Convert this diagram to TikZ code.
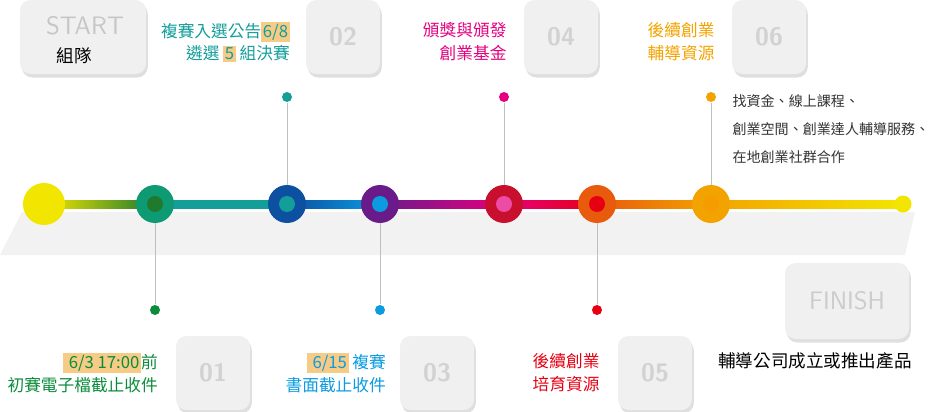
\documentclass[tikz,border=0pt]{standalone}
\usepackage{fontspec}
\setmainfont{Noto Sans CJK TC}
\usetikzlibrary{positioning,shadows,calc}
\definecolor{cYel}{HTML}{F2E600}
\definecolor{cGrn}{HTML}{0E9A72}
\definecolor{cDkG}{HTML}{1F7A2E}
\definecolor{cTeal}{HTML}{139E9A}
\definecolor{cBlu}{HTML}{0D4FA0}
\definecolor{cCyan}{HTML}{0A9BE0}
\definecolor{cPur}{HTML}{6A1B8A}
\definecolor{cMag}{HTML}{E4007F}
\definecolor{cCrim}{HTML}{C8102E}
\definecolor{cRed}{HTML}{E60012}
\definecolor{cOrg}{HTML}{E85A0C}
\definecolor{cAmb}{HTML}{F3A300}
\definecolor{cHl}{HTML}{F5CB85}
\definecolor{cText}{HTML}{0B8C3C}
\begin{document}
\begin{tikzpicture}[x=0.02cm, y=-0.02cm, thick,
  card/.style={draw=none, fill=gray!12, rounded corners=6pt, drop shadow={opacity=0.25, shadow xshift=1pt, shadow yshift=-2pt}},
  num/.style={font=\sffamily\bfseries\Large, text=gray!35},
  ring/.style={circle, minimum size=38*0.02cm, inner sep=0pt, fill=#1},
  core/.style={circle, minimum size=16*0.02cm, inner sep=0pt, fill=#1},
  pin/.style={circle, minimum size=10*0.02cm, inner sep=0pt, fill=#1},
  stem/.style={draw=gray!50, line width=0.5pt},
  lab/.style={align=right, anchor=east, font=\fontsize{9.5}{13}\selectfont},
  hl/.style={fill=cHl, inner sep=1pt}]
\useasboundingbox (0,0) rectangle (940,412);
% Background band
\fill[gray!10] (22,212) -- (915,212) -- (905,255) -- (0,255) -- cycle;

% Cards
\node[card, minimum width=126*0.02cm, minimum height=74*0.02cm] (start) at (83,37) {};
\node[font=\sffamily\Large, text=gray!45] at (85,26) {START};
\node[anchor=west, font=\fontsize{10}{12}\selectfont] at (50,56) {組隊};
\node[card, minimum width=74*0.02cm, minimum height=74*0.02cm] (c02) at (343,37) {};
\node[num] at (c02) {02};
\node[card, minimum width=74*0.02cm, minimum height=74*0.02cm] (c04) at (561,37) {};
\node[num] at (c04) {04};
\node[card, minimum width=74*0.02cm, minimum height=74*0.02cm] (c06) at (769,37) {};
\node[num] at (c06) {06};
\node[card, minimum width=74*0.02cm, minimum height=74*0.02cm] (c01) at (213,373) {};
\node[num] at (c01) {01};
\node[card, minimum width=74*0.02cm, minimum height=74*0.02cm] (c03) at (437,373) {};
\node[num] at (c03) {03};
\node[card, minimum width=74*0.02cm, minimum height=74*0.02cm] (c05) at (655,373) {};
\node[num] at (c05) {05};
\node[card, minimum width=124*0.02cm, minimum height=76*0.02cm] (finish) at (847,301) {};
\node[font=\sffamily\Large, text=gray!40] at (finish) {FINISH};

% Timeline points
\coordinate (p0) at (44,204);
\coordinate (p1) at (155,204);
\coordinate (p2) at (287,204);
\coordinate (p3) at (380,204);
\coordinate (p4) at (504,204);
\coordinate (p5) at (597,204);
\coordinate (p6) at (711,204);
\coordinate (pend) at (903,204);

% Stems
\node[pin=cTeal] (d2) at (287,97) {};
\node[pin=cMag] (d4) at (504,97) {};
\node[pin=cAmb] (d6) at (711,97) {};
\node[pin=cText] (d1) at (155,310) {};
\node[pin=cCyan] (d3) at (380,310) {};
\node[pin=cRed] (d5) at (597,310) {};
\foreach \a/\b in {d2/p2, d4/p4, d6/p6, d1/p1, d3/p3, d5/p5}
  \draw[stem] (\a) -- (\b);

% Gradient line
\foreach \a/\b/\ca/\cb in {p0/p1/cYel/cDkG, p1/p2/cTeal/cTeal, p2/p3/cBlu/cCyan, p3/p4/cPur/cMag, p4/p5/cMag/cRed, p5/p6/cOrg/cAmb, p6/pend/cAmb/cYel}
  \shade[left color=\ca, right color=\cb] ($(\a)+(0,-4)$) rectangle ($(\b)+(0,4)$);

% Circles
\node[circle, minimum size=42*0.02cm, inner sep=0pt, fill=cYel] (n0) at (p0) {};
\node[ring=cGrn] (n1) at (p1) {};
\node[core=cDkG] at (n1) {};
\node[ring=cBlu] (n2) at (p2) {};
\node[core=cTeal] at (n2) {};
\node[ring=cPur] (n3) at (p3) {};
\node[core=cCyan] at (n3) {};
\node[ring=cCrim] (n4) at (p4) {};
\node[core=cMag!70] at (n4) {};
\node[ring=cOrg] (n5) at (p5) {};
\node[core=cRed] at (n5) {};
\node[ring=cAmb] (n6) at (p6) {};
\node[core=cAmb!80!orange] at (n6) {};
\node[circle, minimum size=17*0.02cm, inner sep=0pt, fill=cYel] (nend) at (pend) {};

% Labels
\node[lab, text=cTeal] at (296,42) {複賽入選公告\tikz[baseline]\node[hl, anchor=base]{6/8};\\遴選 \tikz[baseline]\node[hl, anchor=base]{5}; 組決賽};
\node[lab, text=cMag] at (513,42) {頒獎與頒發\\創業基金};
\node[lab, text=cAmb] at (721,42) {後續創業\\輔導資源};
\node[anchor=north west, align=left, text=black!80, font=\fontsize{8}{16}\selectfont] at (726,88) {找資金、線上課程、\\創業空間、創業達人輔導服務、\\在地創業社群合作};
\node[lab, text=cText] at (164,373) {\tikz[baseline]\node[hl, anchor=base]{\ 6/3 17:00};前\\初賽電子檔截止收件};
\node[lab, text=cCyan] at (392,373) {\tikz[baseline]\node[hl, anchor=base]{\ 6/15}; 複賽\\書面截止收件};
\node[lab, text=cRed] at (606,373) {後續創業\\培育資源};
\node[font=\fontsize{10}{12}\selectfont] at (815,361) {輔導公司成立或推出產品};
\end{tikzpicture}
\end{document}
